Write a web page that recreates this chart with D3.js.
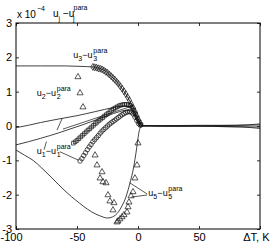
<!DOCTYPE html>
<html>
<head>
<meta charset="utf-8">
<script src="https://cdn.jsdelivr.net/npm/d3@7"></script>
<style>
body { margin: 0; background: #fff; }
text { font-family: "Liberation Sans", Arial, sans-serif; fill: #000; }
</style>
</head>
<body>
<div id="chart"></div>
<script>
var svgWidth = 270
var svgHeight = 246

// tick labels
var xTicks = [-100, -50, 0, 50, 100]
var xTickLabels = ["-100", "-50", "0", "50", "\u0394T, K"]
var yTicks = [-3, -2, -1, 0, 1, 2, 3]
var yTickLabels = ["-3", "-2", "-1", "0", "1", "2", "3"]

// solid curves  [dT, value]
var lineU3 = [[-100,1.75],[-80,1.75],[-60,1.75],[-50,1.74],[-42,1.73],[-37,1.72],[-32,1.68],[-28,1.63],[-24,1.52],[-20,1.39],[-16,1.23],[-13,1.09],[-10,0.93],[-8,0.81],[-6,0.68],[-4,0.53],[-2,0.38],[0,0.22],[1.5,0.1],[3,0.03],[5,0.01],[20,0],[40,0],[60,0.01],[80,0.02],[100,0.03]]
var lineU2 = [[-100,-0.05],[-90,0.02],[-80,0.1],[-64,0.21],[-50,0.3],[-35,0.42],[-20,0.54],[-14,0.58],[-10,0.58],[-7,0.55],[-4,0.45],[-2,0.32],[0,0.15],[2,0.04],[4,0.01],[20,0.01],[50,0.02],[80,0.02],[100,0.06]]
var lineU1 = [[-100,-0.55],[-90,-0.46],[-80,-0.36],[-65,-0.2],[-55,-0.08],[-45,0.04],[-35,0.17],[-25,0.3],[-15,0.42],[-10,0.46],[-7,0.45],[-4,0.35],[-2,0.22],[0,0.08],[2,0.02],[5,0],[30,0],[60,-0.01],[100,-0.03]]
var lineU5 = [[-100,-0.7],[-93,-0.85],[-86,-1.0],[-79,-1.22],[-72,-1.46],[-65,-1.71],[-58,-1.95],[-51,-2.16],[-45,-2.33],[-38,-2.5],[-31,-2.62],[-25,-2.68],[-21,-2.65],[-16,-2.5],[-13,-2.32],[-10,-2.08],[-8,-1.85],[-6,-1.58],[-4,-1.28],[-2.5,-0.98],[-1,-0.62],[0,-0.36],[1,-0.14],[2,-0.04],[3,0],[10,0],[30,-0.01],[50,0],[70,-0.02],[85,-0.03],[100,-0.07]]

// markers
var diamondsU3 = [[-37,1.72],[-35.5,1.71],[-34,1.7],[-32.5,1.68],[-31,1.67],[-29.5,1.65],[-28,1.62],[-26.5,1.58],[-25,1.55],[-23.5,1.5],[-22,1.45],[-20.5,1.4],[-19,1.35],[-17.5,1.29],[-16,1.23],[-14.5,1.16],[-13,1.09],[-11.5,1.01],[-10,0.93],[-8.5,0.84],[-7,0.75],[-5.5,0.64],[-4,0.53],[-2.5,0.42],[-1,0.3],[0.5,0.18],[2,0.07]]
var squaresU2 = [[-53,-0.5],[-51.5,-0.46],[-50,-0.42],[-48.5,-0.37],[-47,-0.32],[-45.5,-0.27],[-44,-0.22],[-42.5,-0.17],[-41,-0.12],[-39.5,-0.08],[-38,-0.03],[-36.5,0.02],[-35,0.07],[-33.5,0.11],[-32,0.16],[-30.5,0.2],[-29,0.24],[-27.5,0.29],[-26,0.33],[-24.5,0.37],[-23,0.42],[-21.5,0.46],[-20,0.5],[-18.5,0.53],[-17,0.56],[-15.5,0.59],[-14,0.61],[-12.5,0.62],[-11,0.63],[-9.5,0.63],[-8,0.62],[-6.5,0.6],[-5,0.55],[-3.5,0.47],[-2,0.36],[-0.5,0.23],[1,0.12],[2.5,0.04]]
var circlesU1 = [[-47.5,-1.02],[-46,-0.95],[-44.5,-0.86],[-43,-0.78],[-41.5,-0.69],[-40,-0.61],[-38.5,-0.54],[-37,-0.46],[-35.5,-0.4],[-34,-0.34],[-32.5,-0.28],[-31,-0.21],[-29.5,-0.15],[-28,-0.1],[-26.5,-0.05],[-25,0],[-23.5,0.05],[-22,0.09],[-20.5,0.13],[-19,0.17],[-17.5,0.21],[-16,0.25],[-14.5,0.29],[-13,0.33],[-11.5,0.36],[-10,0.39],[-8.5,0.41],[-7,0.42],[-5.5,0.4],[-4,0.35],[-2.5,0.26],[-1,0.16],[0.5,0.07],[2,0.02]]
var trianglesU4 = [[-49.2,1.43],[-47.5,0.96],[-45.1,0.55],[-35.2,-0.85],[-33.6,-1.14],[-29.5,-1.34],[-31.1,-1.52],[-28.7,-1.63],[-26.2,-1.66],[-24.6,-2.01],[-23,-2.19],[-19.7,-2.24],[-20.5,-2.45]]
var trianglesU5 = [[-17.2,-2.8],[-16.4,-2.77],[-14.8,-2.71],[-13.1,-2.65],[-11.5,-2.59],[-9,-2.51],[-8.2,-2.36],[-7.4,-2.22],[-5.7,-2.04],[-4.1,-1.92],[-2.5,-1.52],[-0.8,-1.14],[0,-0.5]]

var svg = d3.select("#chart")
    .append("svg")
    .attr("width", svgWidth)
    .attr("height", svgHeight)

var x = d3.scaleLinear().domain([-100, 100]).range([16, 260])
var y = d3.scaleLinear().domain([-3, 3]).range([229, 23])

// axes with inward ticks
var bottomAxis = d3.axisBottom(x).tickValues(xTicks).tickSizeInner(-3).tickSizeOuter(0).tickPadding(4)
    .tickFormat((d, i) => xTickLabels[i])
var topAxis = d3.axisTop(x).tickValues(xTicks).tickSizeInner(-3).tickSizeOuter(0).tickFormat("")
var leftAxis = d3.axisLeft(y).tickValues(yTicks).tickSizeInner(-3).tickSizeOuter(0).tickPadding(4)
    .tickFormat((d, i) => yTickLabels[i])
var rightAxis = d3.axisRight(y).tickValues(yTicks).tickSizeInner(-3).tickSizeOuter(0).tickFormat("")

var gb = svg.append("g").attr("transform", "translate(0,229)").call(bottomAxis)
svg.append("g").attr("transform", "translate(0,23)").call(topAxis)
var gl = svg.append("g").attr("transform", "translate(16,0)").call(leftAxis)
svg.append("g").attr("transform", "translate(260,0)").call(rightAxis)
svg.selectAll(".domain").remove()
svg.selectAll(".tick line").attr("stroke", "#000").attr("stroke-width", 0.8)
svg.selectAll(".tick text").style("font-size", "11px").attr("fill", "#000")
gb.selectAll(".tick text").filter((d) => d === 100).attr("text-anchor", "end").attr("x", 9)
gb.selectAll(".tick text").filter((d) => d === -100).attr("text-anchor", "start").attr("x", -16)

svg.append("rect")
    .attr("x", 16).attr("y", 23)
    .attr("width", 244).attr("height", 206)
    .attr("fill", "none").attr("stroke", "#000").attr("stroke-width", 1)

var line = d3.line().x(d => x(d[0])).y(d => y(d[1])).curve(d3.curveMonotoneX)
var plot = svg.append("g")

;[lineU3, lineU2, lineU1, lineU5].forEach(function (s) {
    plot.append("path").datum(s)
        .attr("d", line)
        .attr("fill", "none").attr("stroke", "#111").attr("stroke-width", 0.8)
})

function markers(data, type, size) {
    plot.selectAll(null).data(data).enter()
        .append("path")
        .attr("transform", d => `translate(${x(d[0])},${y(d[1])})`)
        .attr("d", d3.symbol().type(type).size(size))
        .attr("fill", "none").attr("stroke", "#111").attr("stroke-width", 0.7)
}
markers(diamondsU3, d3.symbolDiamond, 14)
markers(squaresU2, d3.symbolSquare, 13)
markers(circlesU1, d3.symbolCircle, 16)
markers(trianglesU4, d3.symbolTriangle, 16)
markers(trianglesU5, d3.symbolTriangle, 16)

// leader lines
var leaders = [
    [[-66.4, -0.12], [-62, 0.23]],
    [[-61.5, -0.09], [-5, 0.58]],
    [[-77, -0.69], [-75, -0.45]],
    [[-64, -0.75], [-48.5, -1.0]],
    [[-7, -1.65], [7.5, -1.98]],
    [[-5.5, -2.07], [7.5, -2.01]]
]
leaders.forEach(function (l) {
    plot.append("path").datum(l)
        .attr("d", d3.line().x(d => x(d[0])).y(d => y(d[1])))
        .attr("fill", "none").attr("stroke", "#111").attr("stroke-width", 0.7)
})

// labels  u_k - u_k^para
function uLabel(px, py, k) {
    var g = svg.append("g").attr("transform", `translate(${px},${py})`)
    g.append("text").attr("x", 0).attr("y", 0).style("font-size", "9px").text("u")
    g.append("text").attr("x", 5).attr("y", 3).style("font-size", "7px").text(k)
    g.append("text").attr("x", 9).attr("y", 0).style("font-size", "9px").text("\u2212u")
    g.append("text").attr("x", 20).attr("y", 3).style("font-size", "7px").text(k)
    g.append("text").attr("x", 20).attr("y", -5).style("font-size", "7px").text("para")
}
uLabel(x(-53), 58, "3")
uLabel(x(-83), 96, "2")
uLabel(x(-83), 154, "1")
uLabel(x(8.5), 196, "5")

// axis exponent and title
svg.append("text").attr("x", 17).attr("y", 18).style("font-size", "10px").text("x 10")
svg.append("text").attr("x", 37).attr("y", 11).style("font-size", "7px").text("\u22124")
svg.append("text").attr("x", 53).attr("y", 17).style("font-size", "10px").text("u")
svg.append("text").attr("x", 58.5).attr("y", 21).style("font-size", "7px").text("j")
svg.append("text").attr("x", 63).attr("y", 17).style("font-size", "10px").text("\u2212u")
svg.append("text").attr("x", 73).attr("y", 21).style("font-size", "7px").text("j")
svg.append("text").attr("x", 73.5).attr("y", 10).style("font-size", "7px").text("para")
</script>
</body>
</html>
